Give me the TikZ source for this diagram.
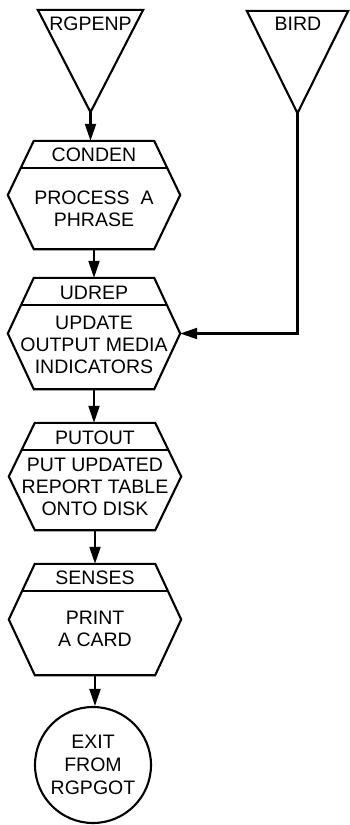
\documentclass[tikz,border=0pt]{standalone}
\usepackage{fontspec}
\setmainfont{Liberation Sans}
\usetikzlibrary{arrows.meta,calc}
\tikzset{
 ln/.style={line width=2.1pt, line join=miter},
 arr/.style={ln, -{Triangle[length=17pt,width=11pt]}},
 lbl/.style={font=\fontsize{19.5}{22}\selectfont, align=center, inner sep=0pt},
 frame/.style={draw=none, inner sep=0pt, shape=rectangle},
}
% name, cx, top, bottom, header text, body text, body centre y, header centre y
\newcommand\flowhex[8]{%
 \node[frame, minimum width=172pt, minimum height={(#4-#3)*1pt}] (#1) at (#2,{(#3+#4)/2}) {};
 \draw[ln] ($(#1.north west)+(26,0)$) -- ($(#1.north east)+(-26,0)$) -- (#1.east)
   -- ($(#1.south east)+(-26,0)$) -- ($(#1.south west)+(26,0)$) -- (#1.west) -- cycle;
 \draw[ln] ($(#1.north west)+(13,27)$) -- ($(#1.north east)+(-13,27)$);
 \node[lbl] (#1h) at (#2,#8) {#5};
 \node[lbl] (#1b) at (#2,#7) {#6};
}
\begin{document}
\begin{tikzpicture}[x=1pt,y=-1pt]
\useasboundingbox (0,0) rectangle (350,825);
% entry triangles
\node[frame, minimum width=105pt, minimum height=102pt] (rgpenp) at (90.5,61) {};
\draw[ln] (rgpenp.north west) -- (rgpenp.north east) -- (rgpenp.south) -- cycle;
\node[lbl] (rgpenpt) at (90.5,23.5) {RGPENP};
\node[frame, minimum width=101pt, minimum height=102pt] (bird) at (297.5,62) {};
\draw[ln] (bird.north west) -- (bird.north east) -- (bird.south) -- cycle;
\node[lbl] (birdt) at (298,24) {BIRD};
% process boxes
\flowhex{conden}{94}{141}{249}{CONDEN}{PROCESS\ \ A\\PHRASE}{209}{154.5}
\flowhex{udrep}{94}{278}{389}{UDREP}{UPDATE\\OUTPUT MEDIA\\INDICATORS}{345}{293}
\flowhex{putout}{95}{423}{530}{PUTOUT}{PUT UPDATED\\REPORT TABLE\\ONTO DISK}{487}{438}
\flowhex{senses}{95}{564}{675}{SENSES}{PRINT\\A CARD}{628.5}{578}
% exit
\node[draw, ln, circle, minimum size=116pt, lbl, execute at begin node={\setlength{\baselineskip}{23pt}}] (exit) at (93,765) {EXIT\\FROM\\RGPGOT};
% connectors
\draw[arr] (rgpenp.south) -- (rgpenp.south |- conden.north);
\draw[arr] (conden.south) -- (udrep.north);
\draw[arr] (udrep.south) -- (udrep.south |- putout.north);
\draw[arr] (putout.south) -- (senses.north);
\draw[arr] (senses.south) -- (senses.south |- exit.north);
\draw[arr] (bird.south) |- (udrep.east);
\end{tikzpicture}
\end{document}
